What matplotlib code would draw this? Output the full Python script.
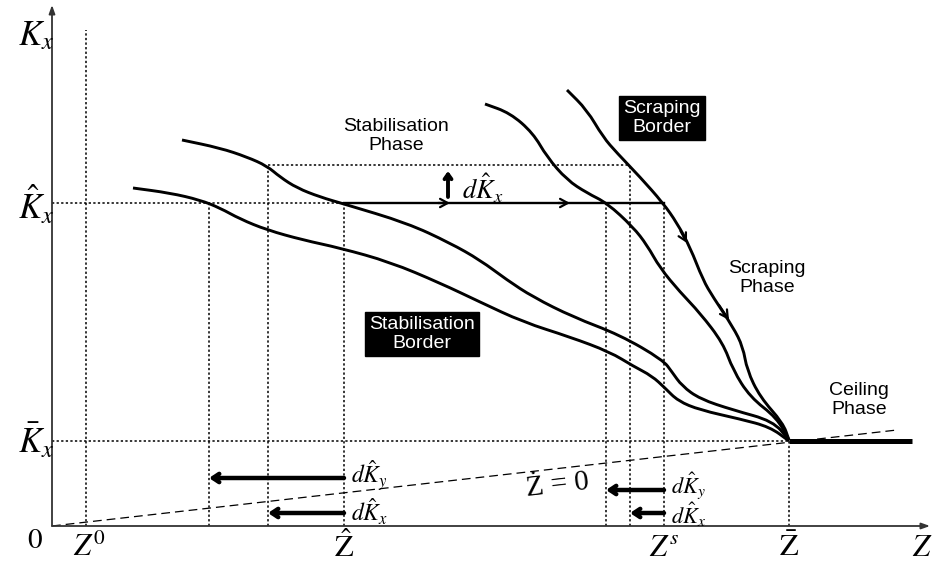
import numpy as np
import matplotlib.pyplot as plt
from matplotlib.path import Path
from matplotlib.patches import PathPatch

plt.rcParams['mathtext.fontset'] = 'stix'
plt.rcParams['font.family'] = ['Liberation Sans', 'DejaVu Sans']

# ---------------------------------------------------------------
# diagram data (Z along x, K_x along y, origin at the axes corner)
# ---------------------------------------------------------------
z_axis_end = 878
k_axis_end = 521

z0 = 34
z_hat = 292
z_s = 612
z_bar = 737
z_ceiling_end = 860
z_dky_left = 157     # dK_y shift at Z hat
z_dkx_left = 216     # dK_x shift at Z hat
z_dky_right = 554    # dK_y shift at Z^s
z_dkx_right = 578    # dK_x shift at Z^s

k_hat = 323
k_hat_up = 361
k_bar = 85

# Zdot = 0 line
zdot_z = [0, 845]
zdot_k = [0, 96]

# trajectories
curve_a_z = [81, 118, 148, 168, 188, 215, 251, 288, 338, 388, 428, 471, 518, 558,
             581, 600, 613, 626, 648, 688, 718, 737]
curve_a_k = [338, 333, 326, 318, 307, 296, 286, 278, 264, 243, 224, 204, 189, 174,
             160, 150, 138, 125, 116, 107, 99, 85]

curve_b_z = [130, 168, 195, 215, 228, 245, 268, 292, 355, 398, 428, 455, 481, 521,
             568, 611, 620, 630, 648, 681, 721, 737]
curve_b_k = [386, 378, 369, 360, 349, 338, 329, 322, 303, 283, 266, 246, 229, 209,
             191, 166, 154, 140, 127, 116, 105, 86]

curve_c_z = [433, 458, 481, 495, 515, 535, 555, 581, 595, 608, 628, 648, 671, 681,
             698, 725, 737]
curve_c_k = [422, 413, 393, 369, 346, 333, 323, 299, 281, 258, 234, 213, 183, 156,
             129, 108, 86]

curve_d_z = [515, 535, 551, 565, 588, 611, 625, 638, 651, 661, 681, 691, 695, 708,
             731, 737]
curve_d_k = [436, 416, 389, 373, 349, 323, 303, 279, 246, 229, 199, 179, 156, 129,
             103, 86]

# direction arrows along the scraping trajectory: point, direction
flow_z = [635, 677]
flow_k = [283, 206]
flow_dz = [13, 20]
flow_dk = [-24, -30]

# chevrons on the K hat line
chevron_z = [398, 518]


def smooth_path(zs, ks):
    # quadratic bezier through the read points (points act as control points)
    pts = np.column_stack([zs, ks]).astype(float)
    verts = [pts[0], (pts[0] + pts[1]) / 2]
    codes = [Path.MOVETO, Path.LINETO]
    for i in range(1, len(pts) - 1):
        verts += [pts[i], (pts[i] + pts[i + 1]) / 2]
        codes += [Path.CURVE3, Path.CURVE3]
    verts.append(pts[-1])
    codes.append(Path.LINETO)
    return Path(verts, codes)


# ---------------------------------------------------------------
fig = plt.figure(figsize=(9.33, 5.69), dpi=100)
ax = fig.add_axes([0, 0, 1, 1])
ax.set_xlim(-52, 881)
ax.set_ylim(-43, 526)
ax.axis('off')

dotted = dict(color='black', lw=1.1, ls=(0, (1.5, 1.5)))

# axes with arrow heads
ax.annotate('', xy=(0, k_axis_end), xytext=(0, 0),
            arrowprops=dict(arrowstyle='-|>,head_length=0.5,head_width=0.18',
                            color='#333333', lw=1.3, shrinkA=0, shrinkB=0))
ax.annotate('', xy=(z_axis_end, 0), xytext=(0, 0),
            arrowprops=dict(arrowstyle='-|>,head_length=0.5,head_width=0.18',
                            color='#333333', lw=1.3, shrinkA=0, shrinkB=0))

# guide lines
ax.plot([z0, z0], [0, 496], **dotted)
ax.plot([0, z_hat], [k_hat, k_hat], **dotted)
ax.plot([z_dkx_left, z_dkx_right], [k_hat_up, k_hat_up], **dotted)
ax.plot([0, z_bar], [k_bar, k_bar], **dotted)
for z in [z_dky_left, z_hat, z_dky_right, z_s]:
    ax.plot([z, z], [0, k_hat], **dotted)
for z in [z_dkx_left, z_dkx_right]:
    ax.plot([z, z], [0, k_hat_up], **dotted)
ax.plot([z_bar, z_bar], [0, k_bar], **dotted)

# Zdot = 0 locus
ax.plot(zdot_z, zdot_k, color='black', lw=0.9, ls=(0, (7, 4)))

# trajectories
for cz, ck in [(curve_a_z, curve_a_k), (curve_b_z, curve_b_k),
               (curve_c_z, curve_c_k), (curve_d_z, curve_d_k)]:
    ax.add_patch(PathPatch(smooth_path(cz, ck), fc='none', ec='black', lw=2.1,
                           capstyle='butt'))

# ceiling
ax.plot([z_bar, z_ceiling_end], [k_bar, k_bar], color='black', lw=3.6,
        solid_capstyle='butt')

# K hat line with chevrons
ax.plot([z_hat, z_s], [k_hat, k_hat], color='black', lw=1.7)
for z in chevron_z:
    ax.annotate('', xy=(z, k_hat), xytext=(z - 12, k_hat),
                arrowprops=dict(arrowstyle='->,head_length=0.55,head_width=0.3',
                                color='black', lw=1.6, shrinkA=0, shrinkB=0))

for z, k, dz, dk in zip(flow_z, flow_k, flow_dz, flow_dk):
    ax.annotate('', xy=(z, k), xytext=(z - dz * 0.5, k - dk * 0.5),
                arrowprops=dict(arrowstyle='->,head_length=0.55,head_width=0.3',
                                color='black', lw=1.6, shrinkA=0, shrinkB=0))

# dK_x upward shift
ax.annotate('', xy=(396, 355), xytext=(396, 329),
            arrowprops=dict(arrowstyle='->,head_length=0.35,head_width=0.25',
                            color='black', lw=2.8, shrinkA=0, shrinkB=0))
ax.text(410, 338, r'$d\hat{K}_x$', fontsize=19, ha='left', va='center')

# leftward shifts at Z hat and Z^s
shift_arrows = [(z_hat, z_dky_left, 48, 50, 17, r'$d\hat{K}_y$'),
                (z_hat, z_dkx_left, 13, 14, 17, r'$d\hat{K}_x$'),
                (z_s, z_dky_right, 36, 40, 16, r'$d\hat{K}_y$'),
                (z_s, z_dkx_right, 13, 11, 16, r'$d\hat{K}_x$')]
for z_from, z_to, k, k_lab, fs, lab in shift_arrows:
    ax.annotate('', xy=(z_to, k), xytext=(z_from, k),
                arrowprops=dict(arrowstyle='->,head_length=0.45,head_width=0.3',
                                color='black', lw=3.2, shrinkA=0, shrinkB=0))
    ax.text(z_from + 7, k_lab, lab, fontsize=fs, ha='left', va='center')

ax.text(506, 41, '\u017b = 0', fontsize=21, ha='center', va='center',
        rotation=6.5, family=['Liberation Serif', 'DejaVu Serif'])

# axis labels
ax.text(-16, 490, r'$K_x$', fontsize=25, ha='center', va='center')
ax.text(-16, 321, r'$\hat{K}_x$', fontsize=25, ha='center', va='center')
ax.text(-16, 85, r'$\bar{K}_x$', fontsize=25, ha='center', va='center')
ax.text(-17, -14, r'$0$', fontsize=21, ha='center', va='center')
ax.text(z0 + 3, -22, r'$Z^0$', fontsize=22, ha='center', va='center')
ax.text(z_hat, -22, r'$\hat{\mathrm{Z}}$', fontsize=22, ha='center', va='center')
ax.text(z_s, -22, r'$Z^s$', fontsize=22, ha='center', va='center')
ax.text(z_bar, -22, r'$\bar{\mathrm{Z}}$', fontsize=22, ha='center', va='center')
ax.text(z_axis_end - 8, -22, r'$Z$', fontsize=22, ha='center', va='center')

# phase / border annotations
ax.text(344, 390, 'Stabilisation\nPhase', fontsize=14, ha='center', va='center')
ax.text(715, 248, 'Scraping\nPhase', fontsize=14, ha='center', va='center')
ax.text(807, 126, 'Ceiling\nPhase', fontsize=14, ha='center', va='center')
box = dict(boxstyle='square,pad=0.2', fc='black', ec='black')
ax.text(610, 408, 'Scraping\nBorder', fontsize=14, ha='center', va='center',
        color='white', bbox=box)
ax.text(370, 192, 'Stabilisation\nBorder', fontsize=14, ha='center', va='center',
        color='white', bbox=box)

fig.savefig('out.png', dpi=100)
